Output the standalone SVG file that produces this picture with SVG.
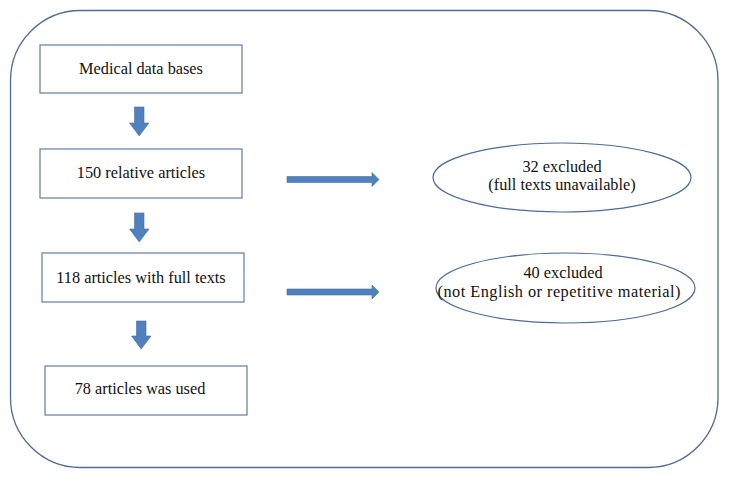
<svg xmlns="http://www.w3.org/2000/svg" width="729" height="479" viewBox="0 0 729 479">
<style>
.box{fill:#fff;stroke:#6f86ad;stroke-width:1.3}
.ell{fill:#fff;stroke:#4a6b9c;stroke-width:1.2}
.t{font-family:"Liberation Serif",serif;font-size:16.3px;fill:#111;text-anchor:middle}
.arr{fill:#4f81bd;stroke:#3f6fa8;stroke-width:0.6}
</style>
<rect x="0" y="0" width="729" height="479" fill="#fff"/>
<rect x="10.5" y="10.5" width="707.5" height="457" rx="70" ry="70" fill="none" stroke="#4f6b96" stroke-width="1.3"/>
<g id="n1"><rect class="box" x="40" y="45" width="202" height="48"/><text class="t" x="141" y="74">Medical data bases</text></g>
<g id="n2"><rect class="box" x="40" y="149" width="202" height="49"/><text class="t" x="141" y="178">150 relative articles</text></g>
<g id="n3"><rect class="box" x="42" y="253" width="202" height="49"/><text class="t" x="141" y="283">118 articles with full texts</text></g>
<g id="n4"><rect class="box" x="45" y="366" width="202" height="49"/><text class="t" x="140" y="394">78 articles was used</text></g>
<g id="e1"><ellipse class="ell" cx="562" cy="177.5" rx="129" ry="34.5"/><text class="t" x="562" y="171.5">32 excluded</text><text class="t" x="562" y="189.5">(full texts unavailable)</text></g>
<g id="e2"><ellipse class="ell" cx="565.5" cy="288" rx="129.5" ry="35"/><text class="t" x="563" y="278">40 excluded</text><text class="t" x="559" y="297" textLength="243" lengthAdjust="spacing">(not English or repetitive material)</text></g>
<g id="connectors">
<path class="arr" d="M134.5,107 H144 V123 H149 L139.2,136 L129.5,123 H134.5 Z"/>
<path class="arr" d="M134.5,213 H144 V229 H149 L139.2,242 L129.5,229 H134.5 Z"/>
<path class="arr" d="M136.5,321 H146 V336 H151 L141.2,349 L131.5,336 H136.5 Z"/>
<path class="arr" d="M287,176.5 H372 V172.5 L379,179.5 L372,186.5 V182.5 H287 Z"/>
<path class="arr" d="M287,289 H372 V285 L379,292 L372,299 V295 H287 Z"/>
</g>
</svg>
